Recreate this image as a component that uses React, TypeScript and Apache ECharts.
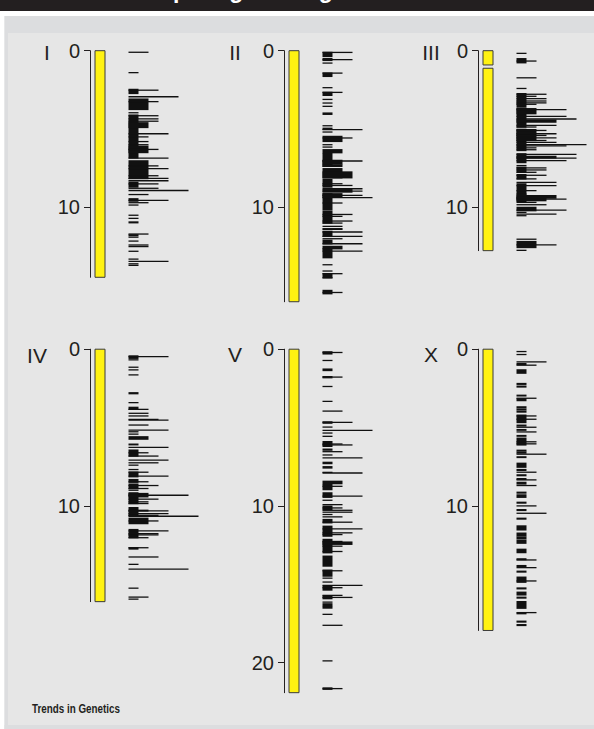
import React, { useEffect, useRef } from "react";
import * as echarts from "echarts";

// ---------- data ----------
const CHROMOSOMES = ["I", "II", "III", "IV", "V", "X"];
const LENGTHS = [14.46, 16.02, 12.76, 16.11, 21.92, 17.95];
const TICKS_I = [0, 10];
const TICKS_II = [0, 10];
const TICKS_III = [0, 10];
const TICKS_IV = [0, 10];
const TICKS_V = [0, 10, 20];
const TICKS_X = [0, 10];

const SEG_I = [[0, 14.46]];
const SEG_II = [[0, 16.02]];
const SEG_III = [[0, 0.91], [1.12, 12.76]];
const SEG_IV = [[0, 16.11]];
const SEG_V = [[0, 21.92]];
const SEG_X = [[0, 17.95]];

// [start Mb, end Mb, length units]
const MARKS_I = [
  [0.1, 0.1, 2], [1.4, 1.4, 1], [2.47, 2.73, 1], [2.52, 2.52, 3], [2.94, 2.94, 5], [3.09, 3.75, 2], [3.25, 3.25, 3],
  [3.96, 3.96, 1], [4.11, 6.84, 1], [4.15, 4.15, 3], [4.35, 4.35, 3], [4.5, 4.5, 3], [4.6, 4.9, 2], [5.3, 5.3, 4],
  [5.5, 5.5, 2], [5.8, 5.8, 2], [6.0, 6.0, 2], [6.1, 6.5, 2], [6.3, 6.3, 3], [6.85, 6.85, 4], [7.03, 8.16, 2],
  [7.35, 7.35, 3], [7.52, 7.52, 4], [7.98, 7.98, 3], [8.15, 8.15, 4], [8.3, 8.3, 4], [8.4, 8.7, 1], [8.5, 8.5, 3],
  [8.78, 8.78, 3], [8.92, 8.92, 6], [9.18, 9.18, 2], [9.45, 9.6, 1], [9.55, 9.55, 4], [9.7, 9.7, 2], [9.85, 9.85, 1],
  [10.5, 10.5, 1], [10.7, 10.7, 1], [10.93, 10.98, 1], [11.7, 11.7, 2], [11.75, 11.8, 1], [11.9, 11.9, 1],
  [12.15, 12.15, 1], [12.4, 12.4, 2], [12.5, 12.5, 2], [12.8, 12.8, 1], [13.3, 13.3, 1], [13.45, 13.45, 4],
  [13.6, 13.6, 1], [13.7, 13.7, 1],
];
const MARKS_II = [
  [0.11, 0.11, 3], [0.11, 0.36, 1], [0.57, 0.57, 3], [0.5, 0.62, 1], [0.79, 0.79, 1], [1.43, 1.43, 2], [1.43, 1.64, 1],
  [2.36, 2.36, 1], [2.66, 2.66, 2], [2.66, 2.85, 1], [3.11, 3.11, 1], [3.34, 3.34, 1], [3.55, 3.55, 1], [3.98, 4.06, 1],
  [4.79, 4.79, 1], [4.95, 5.02, 1], [5.04, 5.04, 4], [5.19, 5.19, 1], [5.47, 5.79, 2], [5.57, 5.57, 3], [6.0, 6.0, 1],
  [6.15, 6.15, 1], [6.32, 6.51, 2], [6.57, 7.38, 1], [7.04, 7.04, 4], [7.0, 7.21, 2], [7.28, 7.38, 2], [7.53, 8.11, 2],
  [7.74, 8.11, 3], [8.23, 8.7, 1], [8.49, 8.49, 2], [8.6, 8.6, 3], [8.81, 8.81, 4], [8.87, 9.02, 3], [8.96, 8.96, 4],
  [9.13, 10.13, 1], [9.13, 9.34, 2], [9.23, 9.23, 4], [9.38, 9.38, 5], [9.72, 9.72, 2], [10.23, 11.0, 1],
  [10.45, 10.45, 3], [10.57, 10.57, 2], [10.87, 10.87, 3], [11.0, 11.0, 2], [11.21, 11.21, 2], [11.36, 11.36, 2],
  [11.4, 11.4, 2], [11.53, 11.85, 1], [11.57, 11.57, 4], [11.85, 11.85, 4], [12.0, 12.0, 2], [12.1, 12.32, 1],
  [12.32, 12.32, 4], [12.49, 12.64, 2], [12.64, 13.21, 1], [12.79, 12.79, 4], [13.66, 13.66, 1], [14.06, 14.06, 1],
  [14.23, 14.23, 2], [14.23, 14.49, 1], [14.49, 14.49, 1], [15.3, 15.51, 1], [15.43, 15.43, 2],
];
const MARKS_III = [
  [0.17, 0.17, 1], [0.51, 0.77, 1], [0.66, 0.66, 2], [1.73, 1.73, 2], [2.41, 2.41, 1], [2.74, 3.55, 1], [2.78, 2.78, 3],
  [2.91, 2.91, 2], [3.06, 3.06, 3], [3.21, 3.21, 3], [3.33, 3.33, 3], [3.42, 3.42, 2], [3.65, 4.87, 1], [3.7, 4.02, 2],
  [3.76, 3.76, 5], [4.19, 4.19, 5], [4.36, 4.36, 6], [4.44, 4.55, 4], [4.76, 4.76, 4], [4.87, 4.87, 2], [5.02, 6.37, 1],
  [5.04, 5.73, 2], [5.09, 5.09, 3], [5.3, 5.3, 4], [5.41, 5.41, 3], [5.56, 5.56, 4], [5.73, 5.73, 3], [5.85, 5.85, 4],
  [6.0, 6.0, 7], [6.07, 6.07, 5], [6.2, 6.2, 2], [6.32, 6.32, 2], [6.58, 7.14, 1], [6.62, 6.62, 6], [6.75, 6.84, 4],
  [6.86, 6.86, 6], [7.01, 7.01, 5], [7.33, 7.33, 1], [7.44, 7.76, 1], [7.48, 7.48, 3], [7.61, 7.61, 3], [7.76, 7.76, 2],
  [7.91, 8.18, 1], [7.95, 7.95, 3], [8.18, 8.18, 2], [8.4, 8.4, 4], [8.5, 9.15, 1], [8.61, 8.61, 4], [8.93, 8.93, 2],
  [9.15, 9.62, 1], [9.25, 9.4, 4], [9.36, 9.57, 3], [9.47, 9.47, 5], [9.68, 9.68, 2], [9.83, 9.83, 3], [10.0, 10.21, 2],
  [10.17, 10.17, 5], [10.32, 10.32, 1], [10.43, 10.43, 4], [10.53, 10.53, 1], [12.03, 12.03, 2], [12.18, 12.56, 2],
  [12.39, 12.39, 4], [12.74, 12.74, 1],
];
const MARKS_IV = [
  [0.43, 0.58, 1], [0.47, 0.47, 4], [0.68, 0.68, 1], [1.15, 1.15, 1], [1.32, 1.32, 1], [1.64, 1.64, 1], [2.78, 2.84, 1],
  [3.41, 3.41, 1], [3.71, 3.84, 1], [3.84, 3.84, 2], [4.09, 4.09, 2], [4.26, 4.26, 2], [4.48, 4.48, 3], [4.52, 4.52, 4],
  [4.84, 4.84, 2], [5.16, 5.16, 4], [5.27, 5.27, 1], [5.42, 5.42, 1], [5.59, 5.74, 2], [6.06, 6.1, 1], [6.27, 6.27, 4],
  [6.44, 6.82, 1], [6.61, 6.61, 2], [6.82, 6.82, 3], [7.08, 7.08, 4], [7.25, 7.25, 3], [7.4, 7.4, 1], [7.68, 7.68, 1],
  [7.85, 8.14, 1], [7.85, 7.85, 2], [8.1, 8.1, 4], [8.32, 8.49, 1], [8.46, 8.46, 2], [8.61, 8.89, 1], [8.7, 8.7, 3],
  [8.89, 8.89, 2], [9.0, 9.0, 1], [9.17, 9.85, 1], [9.21, 9.42, 2], [9.32, 9.32, 6], [9.57, 9.57, 3], [9.74, 9.74, 2],
  [9.85, 9.85, 2], [10.11, 10.62, 1], [10.28, 10.32, 2], [10.32, 10.32, 4], [10.49, 10.49, 4], [10.6, 10.6, 3],
  [10.66, 10.66, 7], [10.79, 11.13, 2], [10.96, 10.96, 3], [11.51, 12.03, 1], [11.6, 11.6, 4], [11.77, 11.77, 3],
  [11.85, 11.85, 3], [12.03, 12.03, 2], [12.67, 12.75, 1], [12.67, 12.67, 2], [13.26, 13.26, 3], [13.73, 13.73, 1],
  [14.03, 14.03, 6], [15.25, 15.25, 1], [15.82, 15.82, 2], [15.95, 15.95, 1],
];
const MARKS_V = [
  [0.17, 0.3, 1], [0.21, 0.21, 2], [0.72, 0.72, 1], [1.27, 1.36, 1], [1.78, 1.78, 2], [1.75, 1.82, 1], [2.38, 2.38, 1],
  [3.33, 3.33, 1], [3.95, 3.95, 2], [4.67, 4.67, 3], [4.64, 4.72, 1], [4.97, 4.97, 1], [5.18, 5.18, 5], [5.35, 5.35, 1],
  [5.56, 5.56, 1], [5.9, 6.2, 1], [6.05, 6.05, 2], [6.11, 6.11, 3], [6.38, 6.44, 1], [6.54, 6.54, 2], [6.75, 6.75, 1],
  [6.94, 6.94, 4], [7.22, 7.3, 1], [7.5, 7.58, 1], [7.86, 7.86, 1], [7.9, 7.9, 4], [8.43, 8.58, 2], [8.64, 8.96, 1],
  [8.75, 8.75, 2], [9.17, 9.45, 1], [9.38, 9.38, 4], [9.64, 9.64, 1], [9.92, 9.92, 2], [10.02, 10.23, 1],
  [10.13, 10.13, 2], [10.28, 10.28, 3], [10.4, 10.4, 3], [10.55, 10.55, 1], [10.7, 10.7, 2], [10.87, 11.08, 1],
  [11.04, 11.04, 3], [11.3, 11.93, 1], [11.46, 11.46, 4], [11.72, 11.72, 3], [11.83, 11.83, 2], [12.14, 12.99, 1],
  [12.27, 12.27, 2], [12.31, 12.45, 3], [12.57, 12.57, 2], [12.91, 12.91, 2], [13.21, 13.84, 1], [14.14, 14.14, 2],
  [14.1, 14.48, 1], [14.61, 14.61, 1], [14.86, 14.86, 1], [15.07, 15.07, 4], [15.12, 15.37, 1], [15.22, 15.22, 2],
  [15.71, 15.71, 2], [15.75, 15.92, 1], [15.84, 15.84, 3], [16.14, 16.14, 1], [16.25, 16.36, 1], [16.43, 16.52, 1],
  [16.92, 16.92, 1], [17.62, 17.62, 2], [19.89, 19.89, 1], [21.62, 21.7, 1], [21.66, 21.66, 2],
];
const MARKS_X = [
  [0.15, 0.15, 1], [0.34, 0.34, 1], [0.81, 0.81, 3], [0.92, 0.98, 1], [1.02, 1.02, 2], [1.32, 1.53, 1], [2.19, 2.24, 1],
  [2.36, 2.41, 1], [2.94, 2.98, 1], [3.13, 3.13, 2], [3.17, 3.28, 1], [3.68, 3.73, 1], [3.82, 3.87, 1], [3.96, 4.01, 1],
  [4.21, 4.68, 1], [4.26, 4.26, 2], [4.47, 4.47, 2], [4.85, 4.9, 1], [4.98, 4.98, 2], [5.13, 5.17, 1], [5.28, 5.28, 2],
  [5.51, 5.55, 1], [5.68, 6.11, 1], [5.91, 5.91, 2], [6.04, 6.04, 2], [6.45, 6.5, 1], [6.58, 6.63, 1], [6.7, 6.7, 3],
  [6.87, 6.91, 1], [7.28, 7.53, 1], [7.68, 7.73, 1], [7.85, 7.85, 2], [8.02, 8.07, 1], [8.26, 8.31, 1], [8.34, 8.34, 2],
  [8.5, 8.6, 1], [8.7, 8.7, 2], [9.13, 9.18, 1], [9.3, 9.45, 1], [9.77, 9.82, 1], [10.0, 10.0, 2], [10.24, 10.29, 1],
  [10.47, 10.47, 3], [10.79, 10.84, 1], [11.28, 11.53, 1], [11.74, 11.92, 1], [12.0, 12.1, 1], [12.2, 12.38, 1],
  [12.77, 12.98, 1], [13.38, 13.43, 1], [13.45, 13.45, 2], [13.81, 13.86, 1], [13.94, 13.94, 2], [14.17, 14.22, 1],
  [14.55, 14.87, 1], [14.79, 14.79, 2], [15.24, 15.29, 1], [15.51, 15.68, 1], [15.83, 15.88, 1], [16.11, 16.53, 1],
  [16.81, 16.81, 2], [16.85, 16.88, 1], [17.36, 17.41, 1], [17.58, 17.63, 1],
];

const TICKS = [TICKS_I, TICKS_II, TICKS_III, TICKS_IV, TICKS_V, TICKS_X];
const SEGMENTS = [SEG_I, SEG_II, SEG_III, SEG_IV, SEG_V, SEG_X];
const MARKS = [MARKS_I, MARKS_II, MARKS_III, MARKS_IV, MARKS_V, MARKS_X];

const HEADER_TEXT = "Comparing the largest families";
const SOURCE_TEXT = "Trends in Genetics";

// ---------- layout / style ----------
const W = 594;
const H = 729;
const AXIS_X = [90, 284, 478];
const ROW_TOP = [50.7, 349.2];
const PX_PER_MB = 15.67;
const UNIT_PX = 10;
const MARK_X0 = 3.85;
const LABEL_X = [47, 235, 431, 37, 235, 431];
const LABEL_Y = [52, 52, 52, 355, 354, 354];
const INK = "#231f20";
const FONT = '"Liberation Sans", Arial, Helvetica, sans-serif';

export default function App() {
  const ref = useRef<HTMLDivElement>(null);

  useEffect(() => {
    document.body.style.margin = "0";
    const chart = echarts.init(ref.current!, null, { renderer: "svg" });

    const grid: any[] = [];
    const xAxis: any[] = [];
    const yAxis: any[] = [];
    const series: any[] = [];

    const barRender = (params: any, api: any) => {
      const s = api.value(0);
      const e = api.value(1);
      const p1 = api.coord([0.5, s]);
      const p2 = api.coord([1.5, e]);
      return {
        type: "rect",
        shape: { x: p1[0], y: p1[1], width: p2[0] - p1[0], height: p2[1] - p1[1] },
        style: { fill: "#fff212", stroke: "#3a3a3a", lineWidth: 1 },
      };
    };
    const markRender = (params: any, api: any) => {
      const s = api.value(0);
      const e = api.value(1);
      const len = api.value(2);
      const p1 = api.coord([MARK_X0, s]);
      const p2 = api.coord([MARK_X0 + len, e]);
      return {
        type: "rect",
        shape: { x: p1[0], y: p1[1] - 0.65, width: p2[0] - p1[0], height: p2[1] - p1[1] + 1.3 },
        style: { fill: "#111111" },
      };
    };

    CHROMOSOMES.forEach((name, i) => {
      const col = i % 3;
      const row = Math.floor(i / 3);
      const L = LENGTHS[i];
      grid.push({ left: AXIS_X[col], top: ROW_TOP[row], width: 11 * UNIT_PX, height: L * PX_PER_MB });
      xAxis.push({ gridIndex: i, type: "value", min: 0, max: 11, show: false });
      yAxis.push({
        gridIndex: i,
        type: "value",
        inverse: true,
        min: 0,
        max: L,
        position: "left",
        axisLine: { show: true, lineStyle: { color: INK, width: 1 } },
        axisTick: { show: true, length: 6, inside: false, customValues: TICKS[i], lineStyle: { color: INK, width: 1 } },
        axisLabel: { show: true, customValues: TICKS[i], margin: 10, fontSize: 20, color: INK, fontFamily: FONT },
        splitLine: { show: false },
      });
      series.push({
        type: "custom",
        name: name + " chromosome",
        xAxisIndex: i,
        yAxisIndex: i,
        data: SEGMENTS[i],
        renderItem: barRender,
        silent: true,
        z: 3,
      });
      series.push({
        type: "custom",
        name: name + " marks",
        xAxisIndex: i,
        yAxisIndex: i,
        data: MARKS[i],
        renderItem: markRender,
        silent: true,
        z: 3,
      });
    });

    const elements: any[] = [
      { type: "rect", shape: { x: 0, y: 0, width: W, height: 11 }, style: { fill: "#231f20" }, z: 0 },
      { type: "rect", shape: { x: 0, y: 11, width: W, height: 5 }, style: { fill: "#ffffff" }, z: 0 },
      { type: "rect", shape: { x: 0, y: 11, width: 4.5, height: H - 11 }, style: { fill: "#ffffff" }, z: 0 },
      { type: "rect", shape: { x: 4.5, y: 16, width: W - 4.5, height: 17 }, style: { fill: "#dcdddf" }, z: 0 },
      { type: "rect", shape: { x: 4.5, y: 33, width: 3.5, height: H - 33 }, style: { fill: "#dcdddf" }, z: 0 },
      { type: "rect", shape: { x: 4.5, y: 725, width: W - 4.5, height: 4 }, style: { fill: "#dcdddf" }, z: 0 },
      {
        type: "text",
        x: 122,
        y: -10,
        z: 5,
        style: { text: HEADER_TEXT, fill: "#ffffff", fontSize: 23, fontWeight: "bold", fontFamily: FONT, align: "left", verticalAlign: "middle" },
      },
      {
        type: "text",
        x: 32,
        y: 709,
        scaleX: 0.82,
        z: 5,
        style: {
          text: SOURCE_TEXT,
          fill: INK,
          fontSize: 12,
          fontWeight: "bold",
          fontFamily: '"Liberation Sans Narrow", "Arial Narrow", "Liberation Sans", sans-serif',
          align: "left",
          verticalAlign: "middle",
        },
      },
    ];
    CHROMOSOMES.forEach((name, i) => {
      elements.push({
        type: "text",
        x: LABEL_X[i],
        y: LABEL_Y[i],
        z: 5,
        style: { text: name, fill: INK, fontSize: 21, fontFamily: FONT, align: "center", verticalAlign: "middle" },
      });
    });

    chart.setOption({
      animation: false,
      backgroundColor: "#e6e6e6",
      grid,
      xAxis,
      yAxis,
      series,
      graphic: { elements },
    });

    return () => chart.dispose();
  }, []);

  return <div ref={ref} style={{ width: W, height: H }} />;
}
